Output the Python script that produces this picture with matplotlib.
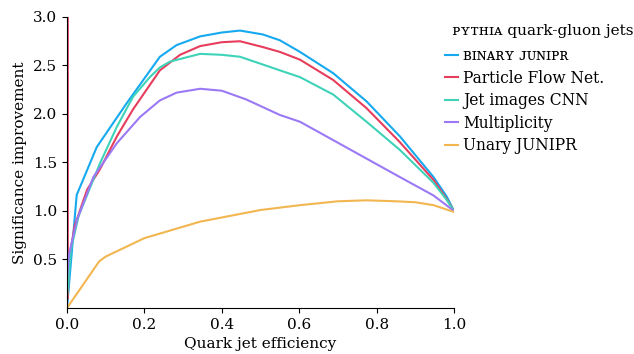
import numpy as np
import matplotlib.pyplot as plt

plt.rcParams['font.family'] = ['DejaVu Serif']

labels = ['ʙɪɴᴀʀʏ ᴊᴜɴɪᴘʀ', 'Particle Flow Net.', 'Jet images CNN', 'Multiplicity', 'Unary JUNIPR']
colors = ['#16a9f0', '#e63d5c', '#3ed3b8', '#9b79f5', '#f2b650']

binary_x = [0.0, 0.025, 0.077, 0.154, 0.24, 0.283, 0.344, 0.40, 0.447, 0.506, 0.55, 0.602, 0.688, 0.774, 0.86, 0.947, 0.981, 1.0]
binary_y = [0.0, 1.165, 1.66, 2.11, 2.59, 2.71, 2.80, 2.84, 2.86, 2.82, 2.76, 2.64, 2.42, 2.13, 1.77, 1.35, 1.15, 1.0]

pfn_x = [0.002, 0.002, 0.005, 0.02, 0.052, 0.085, 0.129, 0.171, 0.24, 0.292, 0.344, 0.40, 0.447, 0.506, 0.55, 0.602, 0.688, 0.774, 0.86, 0.947, 0.98, 1.0]
pfn_y = [3.2, 0.1, 0.5, 0.85, 1.22, 1.43, 1.77, 2.05, 2.45, 2.61, 2.70, 2.74, 2.75, 2.69, 2.64, 2.56, 2.35, 2.06, 1.71, 1.32, 1.13, 1.0]

cnn_x = [0.0, 0.01, 0.03, 0.085, 0.129, 0.171, 0.214, 0.24, 0.266, 0.344, 0.40, 0.447, 0.506, 0.55, 0.602, 0.688, 0.774, 0.86, 0.947, 0.98, 1.0]
cnn_y = [0.1, 0.6, 0.95, 1.49, 1.87, 2.18, 2.38, 2.48, 2.54, 2.62, 2.61, 2.59, 2.51, 2.45, 2.38, 2.20, 1.92, 1.63, 1.29, 1.12, 1.0]

mult_x = [0.0, 0.005, 0.026, 0.068, 0.129, 0.189, 0.24, 0.283, 0.344, 0.40, 0.463, 0.55, 0.602, 0.688, 0.774, 0.86, 0.947, 1.0]
mult_y = [0.3, 0.55, 0.91, 1.35, 1.70, 1.97, 2.14, 2.22, 2.26, 2.24, 2.15, 1.99, 1.92, 1.73, 1.54, 1.35, 1.16, 1.0]

unary_x = [0.0, 0.083, 0.1, 0.2, 0.344, 0.5, 0.602, 0.7, 0.774, 0.85, 0.9, 0.947, 1.0]
unary_y = [0.0, 0.48, 0.53, 0.72, 0.89, 1.01, 1.06, 1.10, 1.11, 1.10, 1.09, 1.06, 0.99]

series = [(binary_x, binary_y), (pfn_x, pfn_y), (cnn_x, cnn_y), (mult_x, mult_y), (unary_x, unary_y)]

fig = plt.figure(figsize=(6.34, 3.54), dpi=100)
ax = fig.add_axes([0.1057, 0.130, 0.6104, 0.822])

for (x, y), lab, c in zip(series, labels, colors):
    ax.plot(x, y, color=c, lw=1.5, label=lab)

ax.set_xlim(0, 1)
ax.set_ylim(0, 3)
ax.set_xticks(np.arange(0, 1.01, 0.2))
ax.set_yticks(np.arange(0.5, 3.01, 0.5))
ax.tick_params(labelsize=11)
ax.spines['top'].set_visible(False)
ax.spines['right'].set_visible(False)
ax.set_xlabel('Quark jet efficiency', fontsize=11)
ax.set_ylabel('Significance improvement', fontsize=11)

# legend title drawn by hand so it sits where the reference puts it
fig.text(452 / 634, 1 - 35 / 354, 'ᴘʏᴛʜɪᴀ quark-gluon jets', fontsize=11, va='baseline', ha='left')
ax.legend(loc='upper left', bbox_to_anchor=(445 / 634, 1 - 47 / 354), bbox_transform=fig.transFigure,
          frameon=False, fontsize=11.2, handlelength=0.85, handletextpad=0.3,
          labelspacing=0.36, borderpad=0, borderaxespad=0)

fig.savefig('out.png', dpi=100)
